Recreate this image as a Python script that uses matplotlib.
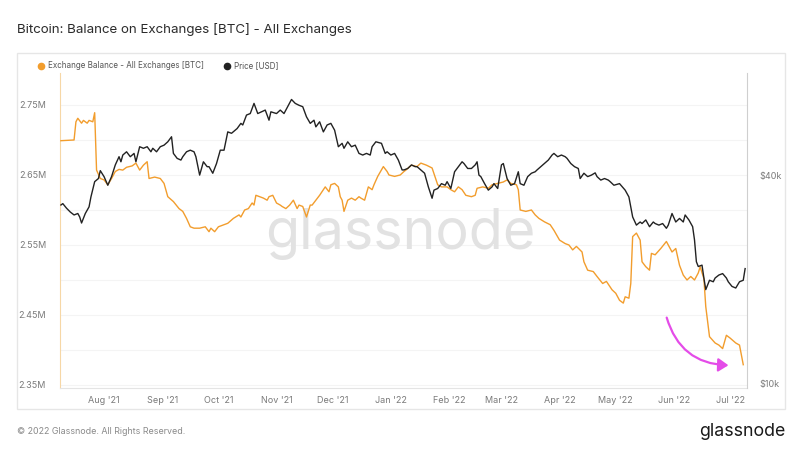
import matplotlib
matplotlib.use("Agg")
import matplotlib.pyplot as plt
import matplotlib.dates as mdates
import matplotlib.ticker as mticker
from matplotlib.lines import Line2D
from matplotlib.patches import Rectangle, FancyArrowPatch
import pandas as pd

plt.rcParams['font.family'] = ['Inter', 'DejaVu Sans']

TITLE = "Bitcoin: Balance on Exchanges [BTC] - All Exchanges"
BAL_LABEL = "Exchange Balance - All Exchanges [BTC]"
PRICE_LABEL = "Price [USD]"

# exchange balance, millions of BTC
bal_dates = [
    "2021-07-09", "2021-07-16", "2021-07-17", "2021-07-18", "2021-07-20", "2021-07-21",
    "2021-07-23", "2021-07-24", "2021-07-26", "2021-07-27", "2021-07-28", "2021-07-30",
    "2021-08-01", "2021-08-03", "2021-08-05", "2021-08-07", "2021-08-09", "2021-08-11",
    "2021-08-13", "2021-08-16", "2021-08-18", "2021-08-20", "2021-08-22", "2021-08-24",
    "2021-08-25", "2021-08-28", "2021-08-31", "2021-09-02", "2021-09-04", "2021-09-07",
    "2021-09-10", "2021-09-12", "2021-09-14", "2021-09-16", "2021-09-18", "2021-09-21",
    "2021-09-24", "2021-09-26", "2021-09-27", "2021-09-29", "2021-10-01", "2021-10-04",
    "2021-10-06", "2021-10-09", "2021-10-12", "2021-10-13", "2021-10-15", "2021-10-17",
    "2021-10-19", "2021-10-20", "2021-10-21", "2021-10-23", "2021-10-25", "2021-10-27",
    "2021-10-28", "2021-10-30", "2021-11-01", "2021-11-03", "2021-11-04", "2021-11-06",
    "2021-11-08", "2021-11-10", "2021-11-12", "2021-11-13", "2021-11-15", "2021-11-17",
    "2021-11-19", "2021-11-20", "2021-11-22", "2021-11-24", "2021-11-26", "2021-11-27",
    "2021-11-29", "2021-11-30", "2021-12-02", "2021-12-04", "2021-12-05", "2021-12-06",
    "2021-12-07", "2021-12-09", "2021-12-11", "2021-12-13", "2021-12-15", "2021-12-16",
    "2021-12-18", "2021-12-20", "2021-12-22", "2021-12-23", "2021-12-25", "2021-12-28",
    "2021-12-30", "2021-12-31", "2022-01-03", "2022-01-06", "2022-01-08", "2022-01-09",
    "2022-01-12", "2022-01-15", "2022-01-17", "2022-01-20", "2022-01-23", "2022-01-24",
    "2022-01-26", "2022-01-28", "2022-01-31", "2022-02-02", "2022-02-04", "2022-02-06",
    "2022-02-08", "2022-02-10", "2022-02-13", "2022-02-15", "2022-02-16", "2022-02-19",
    "2022-02-22", "2022-02-24", "2022-02-27", "2022-03-02", "2022-03-04", "2022-03-06",
    "2022-03-09", "2022-03-10", "2022-03-11", "2022-03-14", "2022-03-17", "2022-03-19",
    "2022-03-21", "2022-03-24", "2022-03-27", "2022-03-29", "2022-04-01", "2022-04-04",
    "2022-04-06", "2022-04-08", "2022-04-10", "2022-04-13", "2022-04-14", "2022-04-16",
    "2022-04-19", "2022-04-21", "2022-04-24", "2022-04-26", "2022-04-29", "2022-05-01",
    "2022-05-03", "2022-05-05", "2022-05-06", "2022-05-08", "2022-05-09", "2022-05-10",
    "2022-05-12", "2022-05-14", "2022-05-15", "2022-05-17", "2022-05-19", "2022-05-20",
    "2022-05-22", "2022-05-25", "2022-05-28", "2022-05-30", "2022-05-31", "2022-06-02",
    "2022-06-04", "2022-06-06", "2022-06-08", "2022-06-10", "2022-06-12", "2022-06-14",
    "2022-06-15", "2022-06-17", "2022-06-18", "2022-06-20", "2022-06-23", "2022-06-25",
    "2022-06-27", "2022-06-29", "2022-07-01", "2022-07-04", "2022-07-06", "2022-07-08",
]
bal_values = [
    2.699, 2.700, 2.726, 2.731, 2.724, 2.728,
    2.724, 2.728, 2.726, 2.739, 2.657, 2.645,
    2.643, 2.636, 2.645, 2.655, 2.658, 2.657,
    2.661, 2.663, 2.667, 2.657, 2.664, 2.669,
    2.645, 2.647, 2.645, 2.638, 2.619, 2.612,
    2.602, 2.598, 2.588, 2.576, 2.574, 2.574,
    2.576, 2.569, 2.574, 2.569, 2.576, 2.579,
    2.581, 2.588, 2.593, 2.590, 2.600, 2.602,
    2.610, 2.607, 2.621, 2.619, 2.617, 2.614,
    2.619, 2.621, 2.610, 2.607, 2.605, 2.602,
    2.607, 2.614, 2.602, 2.607, 2.605, 2.590,
    2.607, 2.607, 2.614, 2.621, 2.629, 2.633,
    2.626, 2.636, 2.638, 2.633, 2.619, 2.614,
    2.598, 2.614, 2.617, 2.614, 2.619, 2.617,
    2.614, 2.633, 2.629, 2.636, 2.648, 2.662,
    2.655, 2.650, 2.648, 2.650, 2.655, 2.657,
    2.664, 2.662, 2.667, 2.664, 2.660, 2.652,
    2.636, 2.633, 2.633, 2.629, 2.626, 2.633,
    2.629, 2.621, 2.619, 2.621, 2.631, 2.633,
    2.631, 2.636, 2.638, 2.640, 2.643, 2.638,
    2.636, 2.629, 2.600, 2.598, 2.600, 2.593,
    2.588, 2.583, 2.579, 2.571, 2.557, 2.552,
    2.550, 2.543, 2.548, 2.540, 2.526, 2.514,
    2.512, 2.505, 2.495, 2.498, 2.486, 2.481,
    2.471, 2.467, 2.476, 2.474, 2.495, 2.562,
    2.567, 2.557, 2.526, 2.519, 2.514, 2.538,
    2.536, 2.545, 2.555, 2.545, 2.540, 2.545,
    2.521, 2.507, 2.500, 2.505, 2.500, 2.510,
    2.519, 2.502, 2.462, 2.419, 2.410, 2.407,
    2.402, 2.421, 2.417, 2.410, 2.407, 2.379,
]

# BTC price, USD
price_dates = [
    "2021-07-09", "2021-07-10", "2021-07-12", "2021-07-14", "2021-07-16", "2021-07-18",
    "2021-07-19", "2021-07-20", "2021-07-22", "2021-07-24", "2021-07-25", "2021-07-27",
    "2021-07-29", "2021-07-30", "2021-08-01", "2021-08-03", "2021-08-05", "2021-08-07",
    "2021-08-09", "2021-08-10", "2021-08-11", "2021-08-13", "2021-08-15", "2021-08-17",
    "2021-08-18", "2021-08-20", "2021-08-22", "2021-08-24", "2021-08-26", "2021-08-27",
    "2021-08-29", "2021-08-31", "2021-09-02", "2021-09-04", "2021-09-06", "2021-09-07",
    "2021-09-09", "2021-09-11", "2021-09-12", "2021-09-14", "2021-09-16", "2021-09-18",
    "2021-09-19", "2021-09-21", "2021-09-23", "2021-09-25", "2021-09-26", "2021-09-28",
    "2021-09-30", "2021-10-02", "2021-10-04", "2021-10-06", "2021-10-08", "2021-10-11",
    "2021-10-13", "2021-10-14", "2021-10-16", "2021-10-18", "2021-10-20", "2021-10-22",
    "2021-10-24", "2021-10-26", "2021-10-28", "2021-10-29", "2021-11-01", "2021-11-03",
    "2021-11-05", "2021-11-06", "2021-11-09", "2021-11-11", "2021-11-13", "2021-11-15",
    "2021-11-17", "2021-11-19", "2021-11-21", "2021-11-22", "2021-11-24", "2021-11-26",
    "2021-11-28", "2021-11-30", "2021-12-02", "2021-12-04", "2021-12-06", "2021-12-07",
    "2021-12-09", "2021-12-11", "2021-12-13", "2021-12-15", "2021-12-17", "2021-12-19",
    "2021-12-21", "2021-12-22", "2021-12-24", "2021-12-27", "2021-12-29", "2021-12-30",
    "2022-01-01", "2022-01-03", "2022-01-05", "2022-01-07", "2022-01-08", "2022-01-10",
    "2022-01-12", "2022-01-14", "2022-01-15", "2022-01-17", "2022-01-19", "2022-01-21",
    "2022-01-23", "2022-01-24", "2022-01-26", "2022-01-28", "2022-01-30", "2022-01-31",
    "2022-02-02", "2022-02-04", "2022-02-06", "2022-02-08", "2022-02-09", "2022-02-11",
    "2022-02-13", "2022-02-15", "2022-02-16", "2022-02-17", "2022-02-18", "2022-02-20",
    "2022-02-22", "2022-02-24", "2022-02-25", "2022-02-27", "2022-03-01", "2022-03-02",
    "2022-03-04", "2022-03-06", "2022-03-08", "2022-03-10", "2022-03-11", "2022-03-13",
    "2022-03-15", "2022-03-17", "2022-03-19", "2022-03-20", "2022-03-22", "2022-03-24",
    "2022-03-26", "2022-03-28", "2022-03-29", "2022-03-31", "2022-04-02", "2022-04-04",
    "2022-04-05", "2022-04-07", "2022-04-09", "2022-04-11", "2022-04-12", "2022-04-14",
    "2022-04-16", "2022-04-18", "2022-04-20", "2022-04-21", "2022-04-23", "2022-04-25",
    "2022-04-27", "2022-04-28", "2022-04-30", "2022-05-03", "2022-05-06", "2022-05-08",
    "2022-05-10", "2022-05-12", "2022-05-14", "2022-05-15", "2022-05-17", "2022-05-19",
    "2022-05-21", "2022-05-22", "2022-05-24", "2022-05-26", "2022-05-28", "2022-05-29",
    "2022-05-31", "2022-06-02", "2022-06-04", "2022-06-06", "2022-06-07", "2022-06-09",
    "2022-06-11", "2022-06-12", "2022-06-13", "2022-06-14", "2022-06-16", "2022-06-17",
    "2022-06-18", "2022-06-20", "2022-06-22", "2022-06-23", "2022-06-25", "2022-06-27",
    "2022-06-29", "2022-06-30", "2022-07-02", "2022-07-04", "2022-07-06", "2022-07-08",
    "2022-07-09",
]
price_values = [
    32800, 33100, 32100, 31300, 30700, 31000,
    30300, 29100, 31000, 32400, 34600, 38300,
    39100, 41200, 39600, 37400, 39600, 42800,
    45200, 43700, 45700, 46700, 45200, 46200,
    43700, 48300, 47800, 48300, 46700, 47800,
    46700, 48300, 48800, 49900, 51600, 46200,
    44700, 44200, 45200, 46700, 47200, 46700,
    45200, 40000, 43700, 42300, 42300, 40500,
    43200, 47200, 47200, 53300, 52800, 54500,
    56400, 55800, 59600, 60200, 64400, 60200,
    60900, 61600, 57600, 60900, 60200, 61600,
    60200, 61600, 66100, 64400, 63600, 63000,
    58900, 56400, 57600, 55100, 57000, 53300,
    55800, 56400, 53900, 48300, 49400, 47800,
    49900, 48300, 48800, 46200, 45700, 46200,
    45700, 48300, 49900, 49400, 46200, 46700,
    45700, 46200, 44200, 41400, 41400, 41800,
    42800, 42300, 42300, 41400, 40500, 37000,
    34300, 36200, 36600, 37800, 37400, 38300,
    36600, 40900, 42300, 43700, 43200, 41800,
    41800, 42800, 43700, 40000, 39600, 37800,
    36200, 37000, 37800, 36600, 42800, 43200,
    39100, 37400, 37800, 40900, 37800, 37400,
    39600, 40500, 40900, 41400, 42300, 43200,
    44200, 45700, 46200, 45200, 45700, 45200,
    44700, 43200, 42300, 41800, 39100, 40500,
    39600, 40000, 40600, 39600, 38700, 39100,
    38700, 38300, 37400, 37800, 36200, 34600,
    30300, 28700, 29300, 29000, 29700, 28400,
    29300, 29000, 28700, 29000, 28100, 28700,
    31000, 29300, 30000, 29300, 30700, 29700,
    28400, 26000, 22500, 21800, 22000, 20200,
    18700, 19900, 19700, 20200, 20600, 20800,
    20200, 19700, 19100, 18900, 19700, 19900,
    21500,
]

bal_ticks = [2.35, 2.45, 2.55, 2.65, 2.75]
price_ticks = [10000, 40000]

ORANGE = "#f29d2d"
DARK = "#222222"
GREY = "#7a7a7a"

bal_x = pd.to_datetime(bal_dates)
price_x = pd.to_datetime(price_dates)

fig = plt.figure(figsize=(8, 4.5), dpi=100, facecolor="white")

# card behind the chart
fig.patches.append(Rectangle((17 / 800, 1 - 409 / 450), 768 / 800, 356 / 450,
                             transform=fig.transFigure, facecolor="white",
                             edgecolor="#e6e6e6", linewidth=1.0, zorder=-10))

ax = fig.add_axes([60 / 800, 1 - 388 / 450, 687 / 800, 315 / 450])
ax.set_facecolor("none")
ax2 = ax.twinx()

ax.plot(bal_x, bal_values, color=ORANGE, lw=1.0, zorder=3)
ax2.plot(price_x, price_values, color=DARK, lw=1.0, zorder=3)

ax.set_xlim(pd.Timestamp("2021-07-08 12:00"), pd.Timestamp("2022-07-10"))
ax.set_ylim(2.3457, 2.7957)
ax2.set_yscale("log")
ax2.set_ylim(9730, 78800)

ax.set_yticks(bal_ticks)
ax.yaxis.set_major_formatter(mticker.FuncFormatter(lambda v, p: f"{v:.2f}M"))
ax.set_yticks([2.40, 2.50, 2.60, 2.70], minor=True)
ax.grid(axis="y", which="both", color="#f4f4f4", lw=0.8, zorder=0)
ax.set_axisbelow(True)

ax2.yaxis.set_major_locator(mticker.FixedLocator(price_ticks))
ax2.yaxis.set_minor_locator(mticker.NullLocator())
ax2.yaxis.set_major_formatter(mticker.FuncFormatter(lambda v, p: f"${v / 1000:.0f}k"))

ax.xaxis.set_major_locator(mdates.MonthLocator())
ax.xaxis.set_major_formatter(mdates.DateFormatter("%b '%y"))

for a in (ax, ax2):
    a.tick_params(length=0, labelsize=6.5, labelcolor=GREY, which="both")
    a.spines["top"].set_visible(False)
ax.tick_params(axis="y", pad=10)
ax.tick_params(axis="x", pad=6)
ax2.tick_params(axis="y", pad=9)
ax.spines["left"].set_color("#f6d7a6")
ax.spines["bottom"].set_color("#e4e4e4")
ax.spines["right"].set_visible(False)
ax2.spines["left"].set_visible(False)
ax2.spines["bottom"].set_visible(False)
ax2.spines["right"].set_color("#cfcfcf")

# watermark
ax.text(0.495, 0.49, "glassnode", transform=ax.transAxes, fontsize=40,
        color="#e2e2e2", ha="center", va="center", zorder=1)

# annotation arrow
arrow = FancyArrowPatch((0.882, 0.232), (0.977, 0.072), transform=ax.transAxes,
                        connectionstyle="arc3,rad=0.38", arrowstyle="-|>,head_length=6,head_width=4",
                        color="#e44ce8", lw=1.6, zorder=5)
ax.add_patch(arrow)

# legend
handles = [
    Line2D([], [], marker="o", ls="none", color=ORANGE, markersize=4.5),
    Line2D([], [], marker="o", ls="none", color=DARK, markersize=4.5),
]
fig.legend(handles, [BAL_LABEL, PRICE_LABEL], loc="center left",
           bbox_to_anchor=(30 / 800, 1 - 66 / 450), ncol=2, frameon=False,
           fontsize=5.8, labelcolor="#555555", handletextpad=0.3, columnspacing=2.4,
           handlelength=1.0)

fig.text(17 / 800, 1 - 30 / 450, TITLE, fontsize=9.6, color="#2b2b2b", va="center")
fig.text(17 / 800, 1 - 431 / 450, "\u00a9 2022 Glassnode. All Rights Reserved.",
         fontsize=6.4, color="#8a8a8a", va="center")
fig.text(785 / 800, 1 - 431 / 450, "glassnode", fontsize=12.8, color="#1a1a1a",
         va="center", ha="right")

fig.savefig("out.png", dpi=100, facecolor=fig.get_facecolor())
